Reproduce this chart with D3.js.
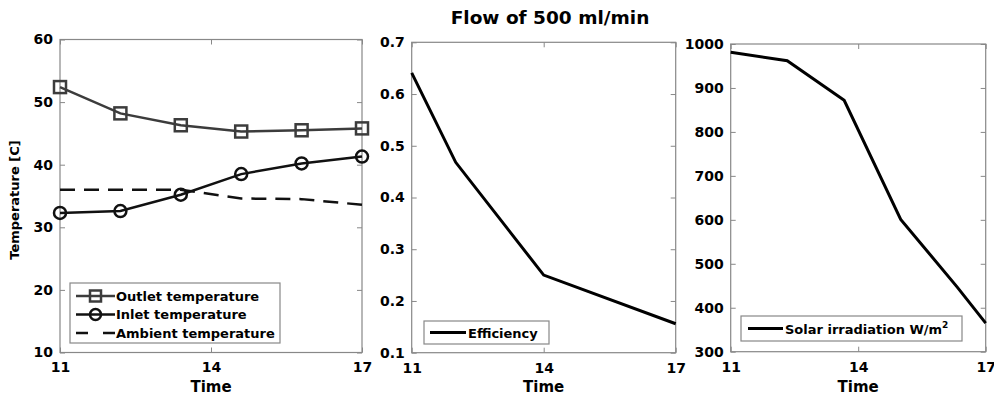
<!DOCTYPE html>
<html lang="en">
<head>
  <meta charset="UTF-8" />
  <title>Flow of 500 ml/min</title>
  <script src="https://cdn.jsdelivr.net/npm/d3@7"></script>
  <style>
    body { margin: 0; background: #fff; }
    svg { display: block; }
    text { font-family: "DejaVu Sans", Arial, sans-serif; font-weight: bold; fill: #000; }
  </style>
</head>
<body>
  <div id="chart"></div>
  <script>
    // Data
    const tempTimes = [11, 12.2, 13.4, 14.6, 15.8, 17];
    const outletTemp = [52.4, 48.2, 46.3, 45.3, 45.5, 45.8];
    const inletTemp = [32.3, 32.6, 35.2, 38.5, 40.2, 41.3];
    const ambientTemp = [36, 36, 36, 34.6, 34.5, 33.6];

    const effTimes = [11, 12, 14, 17];
    const efficiency = [0.641, 0.468, 0.25, 0.156];

    const solarTimes = [11, 12.33, 13.67, 15, 16.33, 17];
    const solar = [981, 962, 872, 601, 447, 365];

    const xTicks = [11, 14, 17];
    const tempTicks = [10, 20, 30, 40, 50, 60];
    const effTicks = [0.1, 0.2, 0.3, 0.4, 0.5, 0.6, 0.7];
    const solarTicks = [300, 400, 500, 600, 700, 800, 900, 1000];

    const W = 994, H = 398;
    const svg = d3.select("#chart").append("svg")
      .attr("width", W).attr("height", H);

    svg.append("text")
      .attr("x", 550).attr("y", 24)
      .attr("text-anchor", "middle")
      .style("font-size", "18.5px")
      .text("Flow of 500 ml/min");

    const boxColor = "#888";

    // draws one MATLAB style panel: box, inward ticks, labels
    function panel(opt) {
      const g = svg.append("g").attr("transform", `translate(${opt.left},${opt.top})`);
      const w = opt.right - opt.left, h = opt.bottom - opt.top;
      const x = d3.scaleLinear().domain([11, 17]).range([0, w]);
      const y = d3.scaleLinear().domain(opt.yDomain).range([h, 0]);

      const styleAxis = sel => {
        sel.select(".domain").remove();
        sel.selectAll(".tick line").attr("stroke", boxColor);
        sel.selectAll(".tick text").style("font-size", "14px").attr("fill", "#000");
      };

      g.append("g").attr("transform", `translate(0,${h})`)
        .call(d3.axisBottom(x).tickValues(xTicks).tickSize(-5).tickPadding(10).tickFormat(d3.format("d")))
        .call(styleAxis);
      g.append("g")
        .call(d3.axisTop(x).tickValues(xTicks).tickSize(-5).tickFormat(""))
        .call(styleAxis);
      g.append("g")
        .call(d3.axisLeft(y).tickValues(opt.yTicks).tickSize(-5).tickPadding(7).tickFormat(opt.fmt))
        .call(styleAxis);
      g.append("g").attr("transform", `translate(${w},0)`)
        .call(d3.axisRight(y).tickValues(opt.yTicks).tickSize(-5).tickFormat(""))
        .call(styleAxis);

      g.append("rect")
        .attr("width", w).attr("height", h)
        .attr("fill", "none").attr("stroke", boxColor).attr("stroke-width", 1.2);

      g.append("text")
        .attr("x", w / 2).attr("y", 392 - opt.top)
        .attr("text-anchor", "middle")
        .style("font-size", "15px")
        .text("Time");

      return { g, x, y, w, h };
    }

    // ---- Panel 1: temperatures
    const p1 = panel({ left: 60, right: 362, top: 39.5, bottom: 352.5, yDomain: [10, 60], yTicks: tempTicks, fmt: d3.format("d") });

    svg.append("text")
      .attr("transform", "translate(19,200) rotate(-90)")
      .attr("text-anchor", "middle")
      .style("font-size", "13px")
      .text("Temperature [C]");

    const line1 = vals => d3.line()
      .x((d, i) => p1.x(tempTimes[i]))
      .y(d => p1.y(d))(vals);

    p1.g.append("path").attr("d", line1(ambientTemp))
      .attr("fill", "none").attr("stroke", "#111").attr("stroke-width", 2.5)
      .attr("stroke-dasharray", "15,9");

    p1.g.append("path").attr("d", line1(outletTemp))
      .attr("fill", "none").attr("stroke", "#3c3c3c").attr("stroke-width", 2.5);
    p1.g.selectAll(".sq").data(outletTemp).join("rect")
      .attr("x", (d, i) => p1.x(tempTimes[i]) - 6)
      .attr("y", d => p1.y(d) - 6)
      .attr("width", 12).attr("height", 12)
      .attr("fill", "none").attr("stroke", "#3c3c3c").attr("stroke-width", 2.5);

    p1.g.append("path").attr("d", line1(inletTemp))
      .attr("fill", "none").attr("stroke", "#111").attr("stroke-width", 2.5);
    p1.g.selectAll(".ci").data(inletTemp).join("circle")
      .attr("cx", (d, i) => p1.x(tempTimes[i]))
      .attr("cy", d => p1.y(d))
      .attr("r", 6)
      .attr("fill", "none").attr("stroke", "#111").attr("stroke-width", 2.5);

    // legend 1
    const lg1 = svg.append("g").attr("transform", "translate(70,283)");
    lg1.append("rect").attr("width", 210).attr("height", 60)
      .attr("fill", "#fff").attr("stroke", boxColor).attr("stroke-width", 1.2);
    const legendRows = [
      { label: "Outlet temperature", color: "#3c3c3c", marker: "square", dash: null },
      { label: "Inlet temperature", color: "#111", marker: "circle", dash: null },
      { label: "Ambient temperature", color: "#111", marker: null, dash: "12,15" }
    ];
    legendRows.forEach((r, i) => {
      const cy = 13 + i * 18.5;
      lg1.append("line").attr("x1", 6).attr("x2", 45).attr("y1", cy).attr("y2", cy)
        .attr("stroke", r.color).attr("stroke-width", 2.5)
        .attr("stroke-dasharray", r.dash);
      if (r.marker === "square") {
        lg1.append("rect").attr("x", 20).attr("y", cy - 5.5).attr("width", 11).attr("height", 11)
          .attr("fill", "none").attr("stroke", r.color).attr("stroke-width", 2.5);
      } else if (r.marker === "circle") {
        lg1.append("circle").attr("cx", 25.5).attr("cy", cy).attr("r", 5.5)
          .attr("fill", "none").attr("stroke", r.color).attr("stroke-width", 2.5);
      }
      lg1.append("text").attr("x", 46).attr("y", cy + 4.5)
        .style("font-size", "13px").text(r.label);
    });

    // ---- Panel 2: efficiency
    const p2 = panel({ left: 411.7, right: 675.7, top: 42.3, bottom: 352.7, yDomain: [0.1, 0.7], yTicks: effTicks, fmt: d3.format(".1f") });
    p2.g.append("path")
      .attr("d", d3.line().x((d, i) => p2.x(effTimes[i])).y(d => p2.y(d))(efficiency))
      .attr("fill", "none").attr("stroke", "#000").attr("stroke-width", 3);

    const lg2 = svg.append("g").attr("transform", "translate(424,321)");
    lg2.append("rect").attr("width", 125).attr("height", 23)
      .attr("fill", "#fff").attr("stroke", boxColor).attr("stroke-width", 1.2);
    lg2.append("line").attr("x1", 6).attr("x2", 42).attr("y1", 11.5).attr("y2", 11.5)
      .attr("stroke", "#000").attr("stroke-width", 3);
    lg2.append("text").attr("x", 44).attr("y", 16.5).style("font-size", "13px").text("Efficiency");

    // ---- Panel 3: solar irradiation
    const p3 = panel({ left: 730.7, right: 985.7, top: 44, bottom: 351.7, yDomain: [300, 1000], yTicks: solarTicks, fmt: d3.format("d") });
    p3.g.append("path")
      .attr("d", d3.line().x((d, i) => p3.x(solarTimes[i])).y(d => p3.y(d))(solar))
      .attr("fill", "none").attr("stroke", "#000").attr("stroke-width", 3);

    const lg3 = svg.append("g").attr("transform", "translate(741,316)");
    lg3.append("rect").attr("width", 221).attr("height", 25)
      .attr("fill", "#fff").attr("stroke", boxColor).attr("stroke-width", 1.2);
    lg3.append("line").attr("x1", 7).attr("x2", 42).attr("y1", 12.5).attr("y2", 12.5)
      .attr("stroke", "#000").attr("stroke-width", 3);
    const t3 = lg3.append("text").attr("x", 44).attr("y", 18).style("font-size", "13px");
    t3.append("tspan").text("Solar irradiation W/m");
    t3.append("tspan").attr("dy", -6).style("font-size", "9px").text("2");
  </script>
</body>
</html>
